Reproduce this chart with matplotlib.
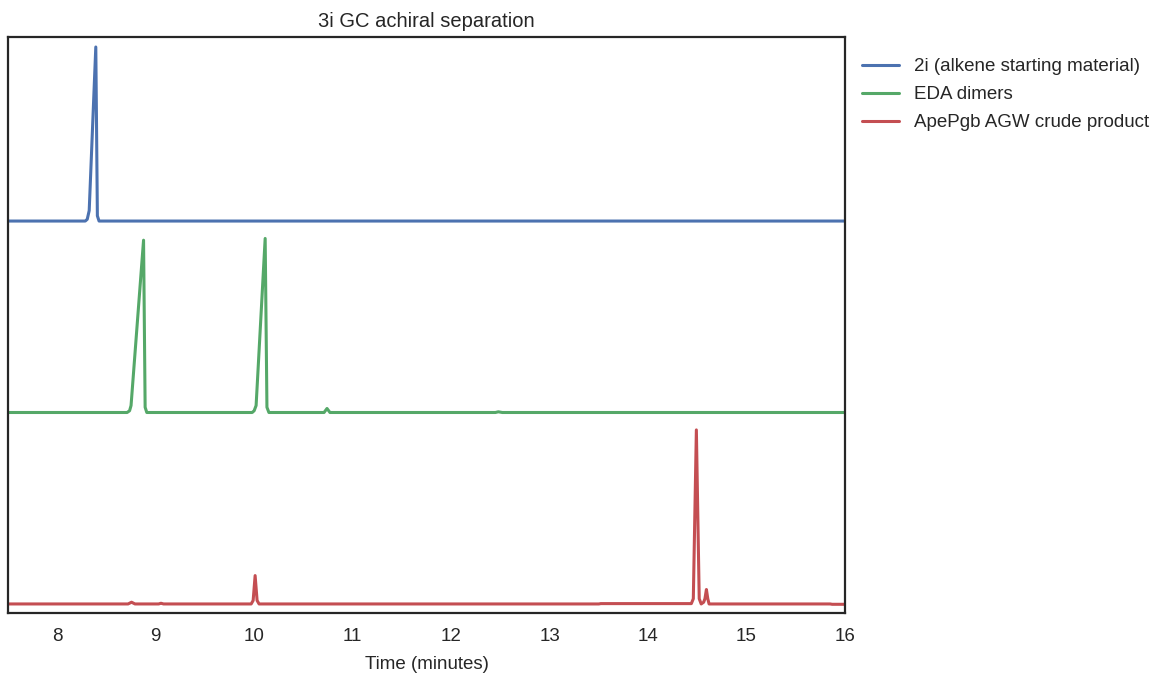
import numpy as np
import matplotlib
matplotlib.use('Agg')
import matplotlib.pyplot as plt
import seaborn as sns

sns.set_style('white')
plt.rcParams['font.family'] = ['Liberation Sans', 'DejaVu Sans']

# GC traces, normalised intensity vs. retention time (minutes)
labels = ['2i (alkene starting material)', 'EDA dimers', 'ApePgb AGW crude product']

t_2i = [7.5, 8.285, 8.305, 8.325, 8.392, 8.408, 8.425, 16.0]
y_2i = [0.0, 0.0, 0.01, 0.06, 1.0, 0.03, 0.0, 0.0]

t_eda = [7.5, 8.71, 8.735, 8.75, 8.877, 8.893, 8.91,
         9.98, 10.00, 10.02, 10.112, 10.13, 10.15,
         10.71, 10.74, 10.77, 12.45, 12.48, 12.52, 16.0]
y_eda = [0.0, 0.0, 0.01, 0.04, 0.99, 0.03, 0.0,
         0.0, 0.01, 0.04, 1.0, 0.03, 0.0,
         0.0, 0.023, 0.0, 0.0, 0.004, 0.0, 0.0]

t_crude = [7.5, 8.72, 8.755, 8.79, 9.03, 9.054, 9.08,
           9.97, 9.99, 10.01, 10.03, 10.05,
           13.50, 13.52, 14.44, 14.46, 14.491, 14.52, 14.54,
           14.565, 14.578, 14.593, 14.607, 14.62, 15.85, 15.87, 16.0]
y_crude = [0.0, 0.0, 0.01, 0.0, 0.0, 0.004, 0.0,
           0.0, 0.02, 0.163, 0.02, 0.0,
           0.0, 0.002, 0.002, 0.03, 1.0, 0.03, 0.0,
           0.01, 0.03, 0.083, 0.03, 0.0, 0.0, -0.002, -0.002]

traces = [(t_2i, y_2i), (t_eda, y_eda), (t_crude, y_crude)]
offset = 1.1

colors = ['#4C72B0', '#55A868', '#C44E52']

fig = plt.figure(figsize=(11.54, 6.74), dpi=100)
ax = fig.add_axes([0.0069, 0.0905, 0.7253, 0.8545])

for i, ((t, y), lab, c) in enumerate(zip(traces, labels, colors)):
  shift = offset * (len(traces) - 1 - i)
  ax.plot(t, np.array(y) + shift, color=c, lw=2.2, label=lab)

ax.set_xlim(7.5, 16)
ax.set_ylim(-0.052, 3.257)
ax.set_yticks([])
ax.set_xticks(np.arange(8, 17, 1))
ax.tick_params(axis='x', labelsize=13.5, length=0, pad=11)
for s in ax.spines.values():
  s.set_color('#262626')
  s.set_linewidth(1.6)

ax.set_xlabel('Time (minutes)', fontsize=13.5, labelpad=8, color='#262626')
ax.set_title('3i GC achiral separation', fontsize=14.5, color='#262626', pad=7)
ax.legend(loc='upper left', bbox_to_anchor=(1.0, 0.993), frameon=False,
          fontsize=13.5, handlelength=2.0, handletextpad=0.8, labelspacing=0.58)

fig.savefig('out.png', dpi=100)
